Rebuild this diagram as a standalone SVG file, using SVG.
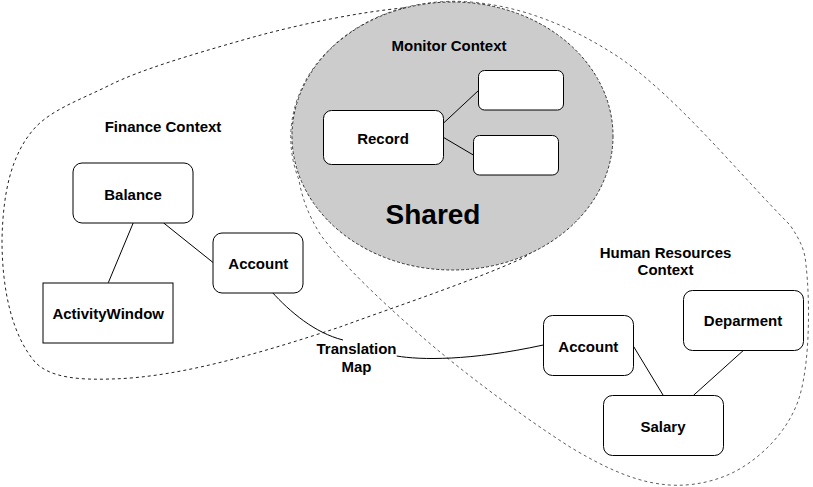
<svg xmlns="http://www.w3.org/2000/svg" width="813" height="487" viewBox="0 0 813 487">
<style>
.bnd{fill:none;stroke:#222;stroke-width:1;stroke-dasharray:3 3}
.hr{stroke:#333;stroke-width:0.8}
.node{fill:#fff;stroke:#000;stroke-width:1}
.edge{fill:none;stroke:#000;stroke-width:1}
text{font-family:"Liberation Sans",Arial,sans-serif;font-weight:bold;font-size:15px;fill:#000;text-anchor:middle}
.big{font-size:28px}
</style>
<rect width="813" height="487" fill="#fff"/>
<g id="finance-boundary">
<path class="bnd" d="M403,8 C360,12 300,24 250,38 C190,55 140,70 110,85 C80,100 50,110 33,130 C12,155 3,190 2,240 C2,290 12,335 35,362 C50,378 80,380 110,379 C180,378 270,350 340,327 C400,305 470,282 523,258 C600,210 610,90 540,35 C500,10 440,5 403,8 Z"/>
</g>
<g id="hr-boundary">
<path class="bnd hr" d="M470,2 C520,6 570,25 620,58 C680,100 740,175 790,225 C800,240 805,250 806,265 C810,300 810,360 800,395 C790,430 760,460 730,474 C705,485 680,487 660,484 C630,480 600,465 570,447 C520,415 460,370 420,335 C380,300 340,262 320,234 C308,214 302,198 299,180 A163 136 0 0 1 470,2 Z"/>
</g>
<g id="shared-context">
<ellipse cx="452.5" cy="136" rx="160.5" ry="134" fill="#ccc" stroke="#333" stroke-width="1" stroke-dasharray="3 2"/>
</g>
<g id="labels">
<text x="449" y="51">Monitor Context</text>
<text x="163" y="131.5">Finance Context</text>
<text class="big" x="433" y="224">Shared</text>
<text x="665.5" y="258">Human Resources</text>
<text x="665.5" y="275">Context</text>
</g>
<g id="connectors">
<path class="edge" d="M133.3,222.7 L108.3,282.7"/>
<path class="edge" d="M163.3,222.7 L213.3,262.7"/>
<path class="edge" d="M443.3,123.3 L478.3,90.7"/>
<path class="edge" d="M443.3,137.3 L473.3,155"/>
<path class="edge" d="M633.3,346 L663.3,395.5"/>
<path class="edge" d="M743.3,350.5 L693.3,395.5"/>
<path class="edge" d="M271.7,291.7 C290,312 315,333 343,340"/>
<path class="edge" d="M396.7,356 C420,360 470,361 543.3,345"/>
<text x="356.5" y="353.5">Translation</text>
<text x="356.5" y="371.5">Map</text>
</g>
<g id="node-record">
<rect class="node" x="323.5" y="110.5" width="120" height="54" rx="8"/>
<text x="383" y="144">Record</text>
</g>
<g id="node-box1">
<rect class="node" x="478.5" y="70.5" width="85" height="39.5" rx="6"/>
</g>
<g id="node-box2">
<rect class="node" x="473.5" y="135.5" width="85" height="39.5" rx="6"/>
</g>
<g id="node-balance">
<rect class="node" x="73" y="163" width="120" height="60" rx="9"/>
<text x="133" y="199.5">Balance</text>
</g>
<g id="node-account-finance">
<rect class="node" x="213" y="233" width="90" height="60" rx="9"/>
<text x="258.3" y="269">Account</text>
</g>
<g id="node-activitywindow">
<rect class="node" x="43" y="283" width="130" height="60"/>
<text x="108.2" y="319.3">ActivityWindow</text>
</g>
<g id="node-account-hr">
<rect class="node" x="543.5" y="315.5" width="90" height="60" rx="9"/>
<text x="588.3" y="351.7">Account</text>
</g>
<g id="node-deparment">
<rect class="node" x="683.5" y="290.5" width="120" height="60" rx="9"/>
<text x="743" y="326">Deparment</text>
</g>
<g id="node-salary">
<rect class="node" x="603.5" y="395.5" width="120" height="60" rx="9"/>
<text x="663" y="431.7">Salary</text>
</g>
</svg>
